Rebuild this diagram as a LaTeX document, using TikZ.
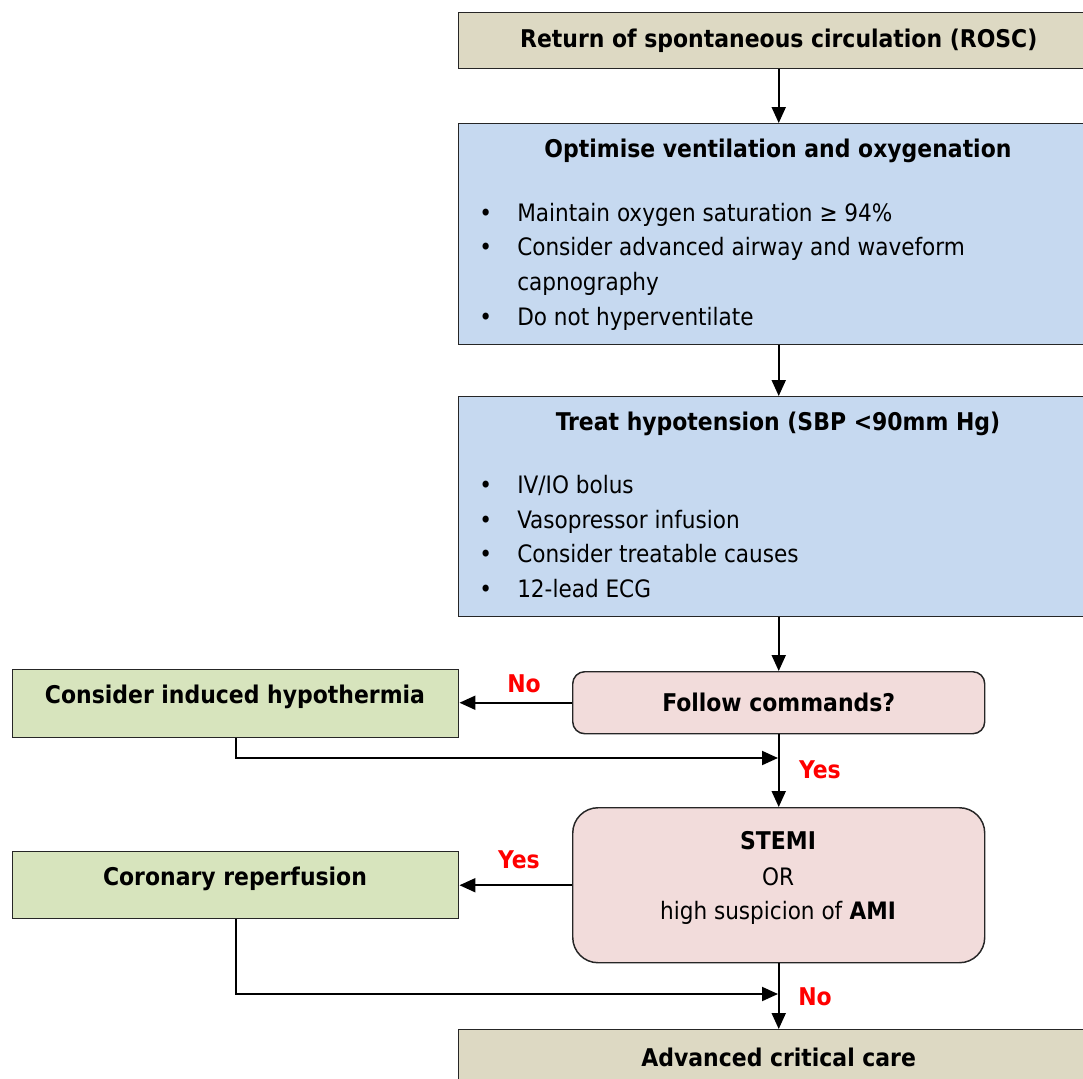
\documentclass[tikz,border=0pt]{standalone}
\usepackage{fontspec}
\setmainfont{DejaVu Sans Condensed}
\usetikzlibrary{arrows.meta,positioning}
\definecolor{tanbox}{HTML}{DDD9C3}
\definecolor{bluebox}{HTML}{C6D9F0}
\definecolor{pinkbox}{HTML}{F2DCDB}
\definecolor{greenbox}{HTML}{D7E4BD}
\newlength\px
\setlength\px{0.75pt}
\tikzset{
  box/.style={draw=black!85, line width=1.1pt, anchor=north west, inner sep=0pt},
  ttl/.style={font=\fontsize{18.3}{22}\selectfont\bfseries},
  txt/.style={font=\fontsize{18}{22}\selectfont, anchor=west, inner sep=0pt, text height=0.75em, text depth=0.2em, yshift=-3.5pt},
  lbl/.style={font=\fontsize{18.3}{22}\selectfont\bfseries, text=red},
  arr/.style={-{Triangle[length=12pt,width=10.5pt]}, line width=1.5pt}
}
\begin{document}
\begin{tikzpicture}[x=0.75pt,y=-0.75pt]
  \useasboundingbox (0,0) rectangle (1083,1079);
  % main column
  \node[box,fill=tanbox,minimum width=640\px,minimum height=56\px,ttl](rosc) at (458,12){Return of spontaneous circulation (ROSC)};
  \node[box,fill=bluebox,minimum width=640\px,minimum height=221\px](vent) at (458,123){};
  \node[ttl] at (778,151){Optimise ventilation and oxygenation};
  \foreach \y/\t in {213/Maintain oxygen saturation ≥ 94\%, 247/Consider advanced airway and waveform, 317/Do not hyperventilate}{
    \node[txt] at (479,\y){\textbullet};
    \node[txt] at (517,\y){\t};
  }
  \node[txt] at (517,282){capnography};
  \node[box,fill=bluebox,minimum width=640\px,minimum height=220\px](bp) at (458,396){};
  \node[ttl] at (778,424){Treat hypotension (SBP <90mm Hg)};
  \foreach \y/\t in {485/{IV/IO bolus}, 520/Vasopressor infusion, 554/Consider treatable causes, 589/12-lead ECG}{
    \node[txt] at (479,\y){\textbullet};
    \node[txt] at (517,\y){\t};
  }
  \node[box,fill=pinkbox,rounded corners=9pt,minimum width=412\px,minimum height=62\px,ttl](follow) at (572,671){Follow commands?};
  \node[box,fill=pinkbox,rounded corners=19pt,minimum width=412\px,minimum height=155\px](stemi) at (572,807){};
  \node[ttl] at (778,841){STEMI};
  \node[font=\fontsize{18}{22}\selectfont] at (778,877){OR};
  \node[font=\fontsize{18}{22}\selectfont] at (778,913){high suspicion of \textbf{AMI}};
  \node[box,fill=tanbox,minimum width=640\px,minimum height=56\px,ttl](acc) at (458,1029){Advanced critical care};
  % side boxes
  \node[box,fill=greenbox,minimum width=446\px,minimum height=68\px](cool) at (12,669){};
  \node[ttl] at (235,697){Consider induced hypothermia};
  \node[box,fill=greenbox,minimum width=446\px,minimum height=67\px](reperf) at (12,851){};
  \node[ttl] at (235,879){Coronary reperfusion};
  % connectors
  \draw[arr](rosc)--(vent);
  \draw[arr](vent)--(bp);
  \draw[arr](bp)--(follow);
  \draw[arr](follow.west)--(follow.west -| cool.east);
  \node[lbl] at (524,684){No};
  \draw[arr](follow)--(stemi);
  \coordinate (j1) at (778,758);
  \draw[arr](cool.south) |- (j1);
  \node[lbl] at (820,770){Yes};
  \draw[arr](stemi.west)--(stemi.west -| reperf.east);
  \node[lbl] at (519,860){Yes};
  \draw[arr](stemi)--(acc);
  \coordinate (j2) at (778,994);
  \draw[arr](reperf.south) |- (j2);
  \node[lbl] at (815,997){No};
\end{tikzpicture}
\end{document}
